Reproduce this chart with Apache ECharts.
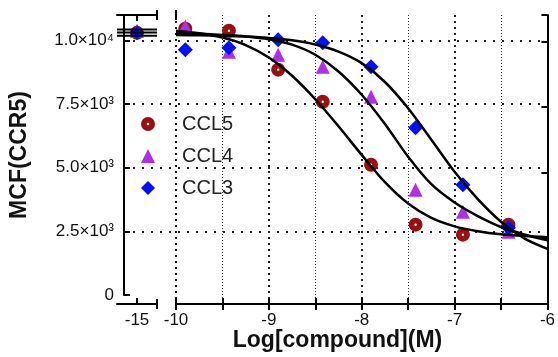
<!DOCTYPE html>
<html><head><meta charset="utf-8">
<script src="https://cdn.jsdelivr.net/npm/echarts@6/dist/echarts.min.js"></script>
<style>html,body{margin:0;padding:0;background:#fff}#c{width:558px;height:357px}</style>
</head><body><div id="c"></div>
<script>
// ---- data ----
const seriesNames = ['CCL5', 'CCL4', 'CCL3'];
const xPoints = [-9.9, -9.43, -8.9, -8.42, -7.9, -7.42, -6.91, -6.42];
const ccl5 = [10480, 10400, 8920, 7700, 5300, 3020, 2640, 3020];
const ccl4 = [10560, 9600, 9490, 9030, 7890, 4350, 3510, 2750];
const ccl3 = [9680, 9750, 10060, 9940, 9030, 6710, 4540, 2900];
const xBreak = -15;                          // point on the broken (left) segment
const breakPoints = [10320, 10400, 10320];   // CCL5, CCL4, CCL3 at -15
const breakPlateau = [10450, 10330, 10210];  // fitted tops, drawn on left segment
const xCurve = [-10, -9.75, -9.5, -9.25, -9, -8.75, -8.5, -8.25, -8, -7.75, -7.5, -7.25, -7, -6.75, -6.5, -6.25, -6];
const fit5 = [10400, 10304, 10143, 9857, 9382, 8687, 7793, 6765, 5675, 4636, 3822, 3277, 2956, 2770, 2651, 2585, 2542];
const fit4 = [10323, 10285, 10242, 10185, 10081, 9872, 9487, 8850, 7965, 6852, 5605, 4559, 3864, 3346, 2932, 2647, 2428];
const fit3 = [10238, 10228, 10211, 10181, 10128, 10036, 9876, 9607, 9169, 8450, 7450, 6250, 5030, 3990, 3130, 2500, 2100];
const yTicks = [0, 2500, 5000, 7500, 10000];
const yTickLabels = ['0', '2.5×10³', '5.0×10³', '7.5×10³', '1.0×10⁴'];
const xTickLabelsLeft = [-15];

// ---- styles ----
const FONT = 'Liberation Sans, Arial, sans-serif';
const colors = ['#9a1010', '#b02ee8', '#0010ff'];
const ring = 'path://M7,0 A7,7 0 1,1 7,14 A7,7 0 1,1 7,0 Z M7,5.8 A1.2,1.2 0 1,0 7,8.2 A1.2,1.2 0 1,0 7,5.8 Z';
const symbols = [ring, 'triangle', 'diamond'];
const symSizes = [14, 14, 15];
const dataArrays = [ccl5, ccl4, ccl3];
const fits = [fit5, fit4, fit3];

const chart = echarts.init(document.getElementById('c'), null, {renderer: 'canvas'});
const gridPos = {top: 15, bottom: 53};
const axisLineStyle = {color: '#000', width: 2};

const series = [];
seriesNames.forEach((n, k) => {
  series.push({
    name: n, type: 'scatter', xAxisIndex: 3, yAxisIndex: 2,
    symbol: symbols[k], symbolSize: symSizes[k], z: 3 + k * 0.1,
    itemStyle: {color: colors[k], opacity: 1},
    data: xPoints.map((x, i) => [x, dataArrays[k][i]])
  });
  series.push({
    name: n, type: 'scatter', xAxisIndex: 1, yAxisIndex: 1,
    symbol: symbols[k], symbolSize: symSizes[k], z: 3 + k * 0.1,
    itemStyle: {color: colors[k], opacity: 1},
    data: [[xBreak, breakPoints[k]]]
  });
});
seriesNames.forEach((n, k) => {
  series.push({
    name: n + ' fit', type: 'line', xAxisIndex: 3, yAxisIndex: 2, smooth: 0.3,
    showSymbol: false, z: 6, silent: true,
    lineStyle: {color: '#000', width: 2.5},
    data: xCurve.map((x, i) => [x, fits[k][i]])
  });
  series.push({
    name: n + ' fit', type: 'line', xAxisIndex: 1, yAxisIndex: 1,
    showSymbol: false, z: 6, silent: true,
    lineStyle: {color: '#000', width: 2},
    data: [[-16, breakPlateau[k]], [-14, breakPlateau[k]]]
  });
});

const yFmt = v => { const i = yTicks.indexOf(v); return i >= 0 ? yTickLabels[i] : ''; };

chart.setOption({
  animation: false,
  backgroundColor: '#fff',
  textStyle: {fontFamily: FONT},
  grid: [
    Object.assign({left: 117, right: 7}, gridPos),
    Object.assign({left: 117, width: 40}, gridPos),
    Object.assign({left: 176, right: 7}, gridPos)
  ],
  legend: {
    orient: 'vertical', left: 136, top: 109, itemWidth: 14, itemHeight: 14, itemGap: 12,
    selectedMode: false, data: seriesNames,
    itemStyle: {opacity: 1},
    textStyle: {fontSize: 20, color: '#222', fontFamily: FONT, padding: [0, 0, 0, 22]}
  },
  xAxis: [
    {gridIndex: 0, type: 'value', min: 0, max: 1,
     axisLine: {show: false}, axisTick: {show: false}, axisLabel: {show: false}, splitLine: {show: false},
     name: 'Log[compound](M)', nameLocation: 'middle', nameGap: 34,
     nameTextStyle: {fontSize: 23, fontWeight: 'bold', color: '#111', fontFamily: FONT}},
    {gridIndex: 1, type: 'value', min: -16, max: -14, interval: 1, position: 'bottom',
     axisLine: {show: true, lineStyle: axisLineStyle},
     axisTick: {show: true, inside: true, length: 6, lineStyle: {color: '#000', width: 2}, customValues: xTickLabelsLeft},
     axisLabel: {show: true, customValues: xTickLabelsLeft, fontSize: 17, color: '#111', margin: 8},
     splitLine: {show: true, showMinLine: false, showMaxLine: false, lineStyle: {color: '#222', type: [2, 4], width: 2}}},
    {gridIndex: 1, type: 'value', min: -16, max: -14, interval: 1, position: 'top',
     axisLine: {show: true, lineStyle: axisLineStyle},
     axisTick: {show: true, inside: true, length: 6, lineStyle: {color: '#000', width: 2}, customValues: xTickLabelsLeft},
     axisLabel: {show: false}, splitLine: {show: false}},
    {gridIndex: 2, type: 'value', min: -10, max: -6, interval: 1, position: 'bottom',
     axisLine: {show: true, lineStyle: axisLineStyle},
     axisTick: {show: true, inside: true, length: 6, lineStyle: {color: '#000', width: 2}},
     minorTick: {show: true, splitNumber: 2, length: 6, lineStyle: {color: '#000', width: 2}},
     axisLabel: {show: true, fontSize: 17, color: '#111', margin: 8},
     splitLine: {show: true, showMaxLine: false, lineStyle: {color: '#222', type: [2, 4], width: 2}},
     minorSplitLine: {show: true, lineStyle: {color: '#333', type: [1, 2], width: 1}}},
    {gridIndex: 2, type: 'value', min: -10, max: -6, interval: 1, position: 'top',
     axisLine: {show: true, lineStyle: axisLineStyle},
     axisTick: {show: true, inside: true, length: 6, lineStyle: {color: '#000', width: 2}},
     minorTick: {show: true, splitNumber: 2, length: 6, lineStyle: {color: '#000', width: 2}},
     axisLabel: {show: false}, splitLine: {show: false}}
  ],
  yAxis: [
    {gridIndex: 0, type: 'value', min: 0, max: 11000, interval: 2500, position: 'left',
     axisLine: {show: true, lineStyle: axisLineStyle},
     axisTick: {show: true, inside: true, length: 6, lineStyle: {color: '#000', width: 2}},
     axisLabel: {formatter: yFmt, fontSize: 17, color: '#111', margin: 10},
     splitLine: {show: true, showMinLine: false, showMaxLine: false, lineStyle: {color: '#222', type: [2, 7], width: 2}},
     name: 'MCF(CCR5)', nameLocation: 'middle', nameGap: 93, nameRotate: 90,
     nameTextStyle: {fontSize: 23, fontWeight: 'bold', color: '#111', fontFamily: FONT}},
    {gridIndex: 1, type: 'value', min: 0, max: 11000, show: false},
    {gridIndex: 2, type: 'value', min: 0, max: 11000, show: false},
    {gridIndex: 2, type: 'value', min: 0, max: 11000, interval: 2500, position: 'right',
     axisLine: {show: true, lineStyle: axisLineStyle},
     axisTick: {show: true, inside: true, length: 6, lineStyle: {color: '#000', width: 2}},
     axisLabel: {show: false}, splitLine: {show: false}}
  ],
  series: series
});

// axis-break caps at the ends of the two segments
const xa = chart.convertToPixel({xAxisIndex: 1}, -14);
const xb = chart.convertToPixel({xAxisIndex: 3}, -10);
const yb = chart.convertToPixel({yAxisIndex: 1}, 0);
const yt = chart.convertToPixel({yAxisIndex: 1}, 11000);
const caps = [];
[xa, xb].forEach(x => [yb, yt].forEach(y => caps.push({
  type: 'line', shape: {x1: x, y1: y - 5, x2: x, y2: y + 5}, style: {stroke: '#000', lineWidth: 2}, z: 10
})));
chart.setOption({graphic: caps});
</script></body></html>
